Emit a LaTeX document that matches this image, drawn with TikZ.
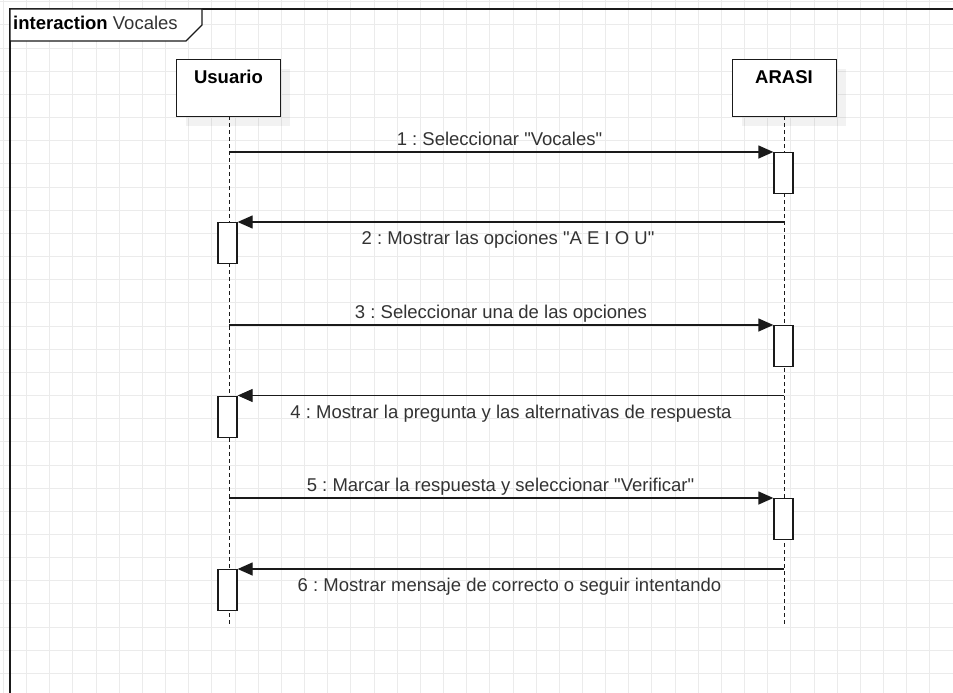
\documentclass[tikz,border=0pt]{standalone}
\usepackage{fontspec}
\setmainfont{Liberation Sans}
\usetikzlibrary{arrows.meta}
\definecolor{gridline}{HTML}{EBEBEB}
\definecolor{ink}{HTML}{1A1A1A}
\definecolor{txt}{HTML}{333333}
\newcommand{\qq}{\textquotedbl}
\tikzset{
  every node/.style={font=\fontsize{18.5}{22}\selectfont\frenchspacing, text=txt, inner sep=0pt},
  lifebox/.style={draw=ink, line width=1.3pt, fill=white},
  boxshadow/.style={fill=black, fill opacity=0.05, draw=none},
  lifeline/.style={draw=ink, line width=1.3pt, dash pattern=on 4pt off 3pt},
  actbox/.style={draw=ink, line width=1.3pt, fill=white},
  msg/.style={draw=ink, line width=1.3pt, -{Triangle[length=15pt,width=13pt]}},
  msglabel/.style={anchor=base},
}
\begin{document}
\begin{tikzpicture}[x=1pt, y=-1pt]
\useasboundingbox (0,0) rectangle (953,693);
\clip (0,0) rectangle (953,693);
% background grid
\fill[white] (0,0) rectangle (953,693);
\foreach \i in {0,...,41} {
  \draw[gridline, line width=1pt] ({3.5+23.16*\i},0) -- ({3.5+23.16*\i},693);
}
\foreach \j in {0,...,30} {
  \draw[gridline, line width=1pt] (0,{1.8+23.16*\j}) -- (953,{1.8+23.16*\j});
}

% interaction frame with its name tab
\draw[ink, line width=1.6pt] (10,700) -- (10,9) -- (960,9);
\draw[ink, line width=1.3pt, fill=white] (10,9) -- (202,9) -- (202,25) -- (186,41) -- (10,41) -- cycle;
\node[anchor=base west] (title) at (13,30) {\textbf{\color{black}interaction} Vocales};

% participants
\fill[boxshadow] (186,69) rectangle (290,126);
\fill[boxshadow] (742,69) rectangle (846,126);
\node[lifebox, minimum width=104pt, minimum height=57pt, anchor=north west] (usuario) at (176,59) {};
\node[lifebox, minimum width=104pt, minimum height=57pt, anchor=north west] (arasi) at (732,59) {};
\node[anchor=base, text=black] (usuariolbl) at (228.5,84) {\textbf{Usuario}};
\node[anchor=base, text=black] (arasilbl) at (784,84) {\textbf{ARASI}};

% lifelines
\coordinate (uend) at (229.3,625);
\coordinate (aend) at (784.3,625);
\draw[lifeline] (229.3,116) -- (uend);
\draw[lifeline] (784.3,116) -- (aend);

% activations
\node[actbox, minimum width=19pt, minimum height=41pt, anchor=north] (a1) at (783.5,152) {};
\node[actbox, minimum width=19pt, minimum height=41pt, anchor=north] (u2) at (227.5,222) {};
\node[actbox, minimum width=19pt, minimum height=41pt, anchor=north] (a3) at (783.5,325) {};
\node[actbox, minimum width=19pt, minimum height=41pt, anchor=north] (u4) at (227.5,395.5) {};
\node[actbox, minimum width=19pt, minimum height=41pt, anchor=north] (a5) at (783.5,498) {};
\node[actbox, minimum width=19pt, minimum height=41pt, anchor=north] (u6) at (227.5,569) {};

% messages
\coordinate (s1) at (229.3,152);
\coordinate (s2) at (784.3,222);
\coordinate (s3) at (229.3,325);
\coordinate (s4) at (784.3,395.5);
\coordinate (s5) at (229.3,498);
\coordinate (s6) at (784.3,569);
\draw[msg] (s1) -- (a1.north west);
\draw[msg] (s2) -- (u2.north east);
\draw[msg] (s3) -- (a3.north west);
\draw[msg] (s4) -- (u4.north east);
\draw[msg] (s5) -- (a5.north west);
\draw[msg] (s6) -- (u6.north east);

\node[msglabel] (l1) at (499.5,145) {1 : Seleccionar \qq Vocales\qq};
\node[msglabel] (l2) at (508,244) {2 : Mostrar las opciones \qq A E I O U\qq};
\node[msglabel] (l3) at (501,318) {3 : Seleccionar una de las opciones};
\node[msglabel] (l4) at (511,418) {4 : Mostrar la pregunta y las alternativas de respuesta};
\node[msglabel] (l5) at (500.5,491) {5 : Marcar la respuesta y seleccionar \qq Verificar\qq};
\node[msglabel] (l6) at (509.5,591) {6 : Mostrar mensaje de correcto o seguir intentando};
\end{tikzpicture}
\end{document}
